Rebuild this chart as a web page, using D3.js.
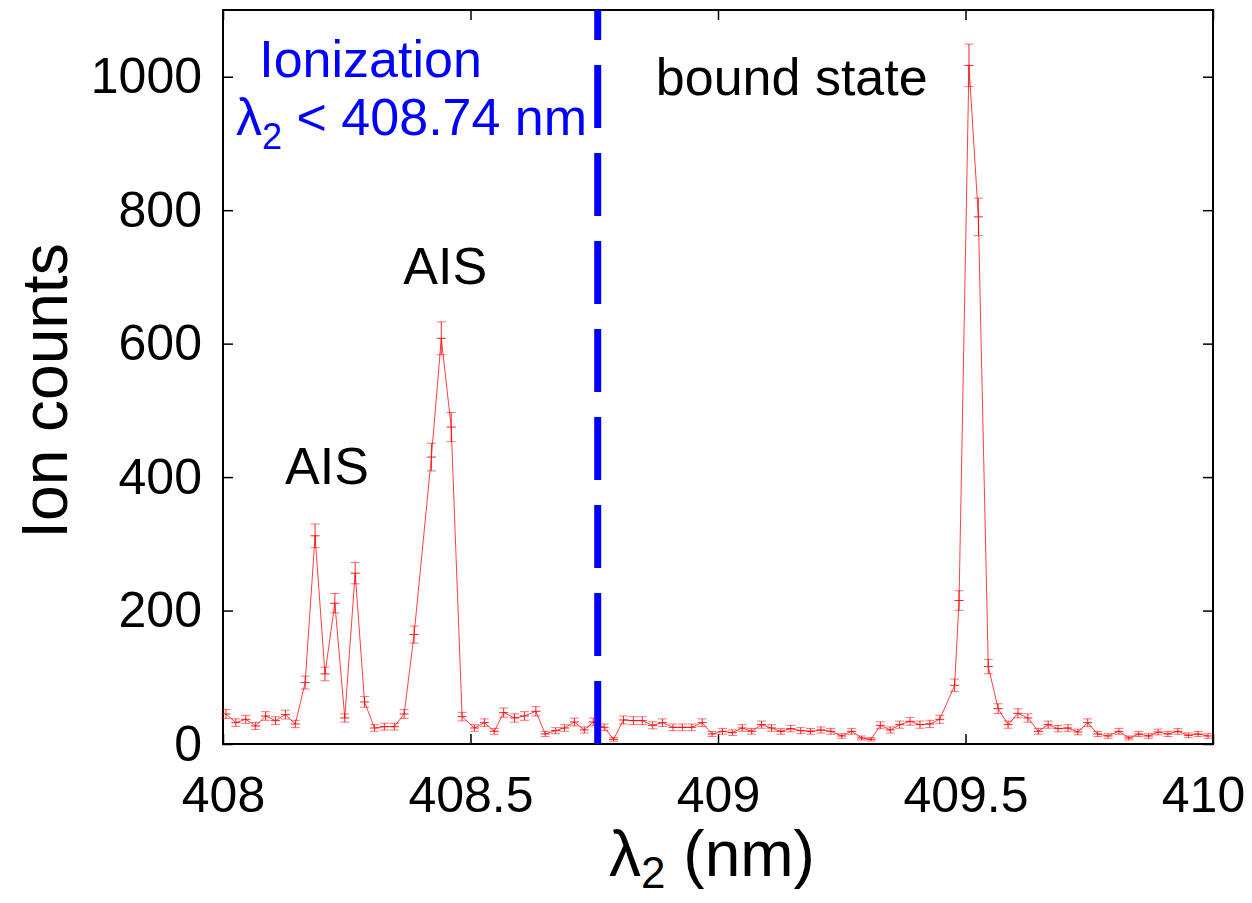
<!DOCTYPE html>
<html>
<head>
<meta charset="utf-8">
<script src="https://cdn.jsdelivr.net/npm/d3@7"></script>
<style>
  body { margin: 0; background: #fff; }
  text { font-family: "Liberation Sans", Arial, Helvetica, sans-serif; }
</style>
</head>
<body>
<div class="chart"></div>
<script>
var svgWidth = 1252;
var svgHeight = 903;
var margin = { top: 10, right: 39, bottom: 159, left: 223 };

var width = svgWidth - margin.left - margin.right;
var height = svgHeight - margin.top - margin.bottom;

// wavelength of each scan point (nm)
var wavelengths = [
  408.006, 408.026, 408.046, 408.066, 408.086, 408.106, 408.126, 408.146, 408.166, 408.186,
  408.206, 408.226, 408.246, 408.267, 408.286, 408.306, 408.326, 408.346, 408.366, 408.386,
  408.421, 408.441, 408.461, 408.483, 408.508, 408.528, 408.548, 408.567, 408.589, 408.609,
  408.632, 408.651, 408.672, 408.690, 408.710, 408.730, 408.748, 408.770, 408.789, 408.809,
  408.829, 408.847, 408.868, 408.888, 408.909, 408.928, 408.947, 408.968, 408.988, 409.009,
  409.029, 409.049, 409.068, 409.088, 409.108, 409.127, 409.147, 409.167, 409.187, 409.208,
  409.228, 409.250, 409.270, 409.290, 409.309, 409.328, 409.348, 409.367, 409.388, 409.408,
  409.428, 409.448, 409.478, 409.487, 409.507, 409.526, 409.546, 409.566, 409.586, 409.606,
  409.626, 409.647, 409.667, 409.687, 409.707, 409.727, 409.747, 409.767, 409.788, 409.810,
  409.830, 409.850, 409.870, 409.889, 409.909, 409.929, 409.950, 409.970, 409.990
];

// ion counts at each point
var ionCounts = [
  45, 32, 37, 27, 42, 35, 44, 30, 92, 312,
  105, 211, 39, 256, 63, 24, 26, 26, 45, 164,
  430, 608, 475, 41, 24, 32, 19, 47, 39, 42,
  49, 15, 20, 24, 33, 21, 33, 25, 7, 36,
  35, 35, 28, 32, 25, 25, 25, 32, 15, 19,
  17, 24, 19, 29, 24, 19, 23, 20, 19, 21,
  19, 12, 19, 9, 7, 28, 21, 29, 34, 29,
  30, 37, 88, 215, 1017, 790, 116, 53, 29, 46,
  39, 19, 29, 23, 24, 18, 32, 15, 12, 19,
  9, 15, 12, 18, 15, 19, 13, 15, 12
];

var xTicks = [408, 408.5, 409, 409.5, 410];
var xTickLabels = ["408", "408.5", "409", "409.5", "410"];
var yTicks = [0, 200, 400, 600, 800, 1000];

var thresholdNm = 408.757;

// text annotations
var notes = [
  { text: "AIS", x: 408.210, y: 389, color: "#000" },
  { text: "AIS", x: 408.449, y: 690, color: "#000" },
  { text: "bound state", x: 409.149, y: 972, color: "#000" },
  { text: "Ionization", x: 408.298, y: 1000, color: "#0000ff" }
];

var data = wavelengths.map(function(w, i) {
  // Poisson error bars
  return { x: w, y: ionCounts[i], err: Math.sqrt(ionCounts[i]) };
});

var svg = d3.select(".chart")
  .append("svg")
  .attr("width", svgWidth)
  .attr("height", svgHeight);

var chartGroup = svg.append("g")
  .attr("transform", `translate(${margin.left}, ${margin.top})`);

var xScale = d3.scaleLinear().domain([408, 410]).range([0, width]);
var yScale = d3.scaleLinear().domain([0, 1100]).range([height, 0]);

// axes, ticks pointing inwards
var bottomAxis = d3.axisBottom(xScale).tickValues(xTicks)
  .tickFormat(function(d, i) { return xTickLabels[i]; })
  .tickSizeInner(-10).tickSizeOuter(0).tickPadding(32);
var topAxis = d3.axisTop(xScale).tickValues(xTicks).tickFormat("")
  .tickSizeInner(-10).tickSizeOuter(0);
var leftAxis = d3.axisLeft(yScale).tickValues(yTicks).tickFormat(d3.format("d"))
  .tickSizeInner(-10).tickSizeOuter(0).tickPadding(21);
var rightAxis = d3.axisRight(yScale).tickValues(yTicks).tickFormat("")
  .tickSizeInner(-10).tickSizeOuter(0);

function styleAxis(g) {
  g.select(".domain").remove();
  g.selectAll(".tick line").attr("stroke", "#000").attr("stroke-width", 1.5);
  g.selectAll(".tick text").attr("fill", "#000").style("font-size", "50px")
    .style("font-family", '"Liberation Sans", Arial, sans-serif');
}

var xAxisG = chartGroup.append("g").attr("transform", `translate(0, ${height})`).call(bottomAxis).call(styleAxis);
// keep the last label inside the window
xAxisG.selectAll(".tick text").filter(d => d === 410).attr("dx", -10);
chartGroup.append("g").call(topAxis).call(styleAxis);
chartGroup.append("g").call(leftAxis).call(styleAxis);
chartGroup.append("g").attr("transform", `translate(${width}, 0)`).call(rightAxis).call(styleAxis);

// frame
chartGroup.append("rect")
  .attr("x", 0).attr("y", 0)
  .attr("width", width).attr("height", height)
  .attr("fill", "none").attr("stroke", "#000").attr("stroke-width", 2);

// data line
var line = d3.line().x(d => xScale(d.x)).y(d => yScale(d.y));
chartGroup.append("path")
  .datum(data)
  .attr("d", line)
  .attr("fill", "none")
  .attr("stroke", "#ff0000")
  .attr("stroke-opacity", 0.75)
  .attr("stroke-width", 1);

// error bars
var capW = 4.5;
var bars = chartGroup.selectAll(".ebar")
  .data(data)
  .enter()
  .append("g")
  .attr("class", "ebar")
  .attr("stroke", "#ff0000")
  .attr("stroke-width", 1);

bars.append("line")
  .attr("x1", d => xScale(d.x)).attr("x2", d => xScale(d.x))
  .attr("y1", d => yScale(d.y + d.err)).attr("y2", d => yScale(d.y - d.err))
  .attr("stroke-opacity", 0.85);
bars.append("line")
  .attr("x1", d => xScale(d.x) - capW).attr("x2", d => xScale(d.x) + capW)
  .attr("y1", d => yScale(d.y + d.err)).attr("y2", d => yScale(d.y + d.err))
  .attr("stroke-opacity", 0.55);
bars.append("line")
  .attr("x1", d => xScale(d.x) - capW).attr("x2", d => xScale(d.x) + capW)
  .attr("y1", d => yScale(d.y - d.err)).attr("y2", d => yScale(d.y - d.err))
  .attr("stroke-opacity", 0.55);
bars.append("line")
  .attr("x1", d => xScale(d.x) - capW).attr("x2", d => xScale(d.x) + capW)
  .attr("y1", d => yScale(d.y)).attr("y2", d => yScale(d.y))
  .attr("stroke-opacity", 0.9);

// ionization threshold
chartGroup.append("line")
  .attr("x1", xScale(thresholdNm)).attr("x2", xScale(thresholdNm))
  .attr("y1", height).attr("y2", 0)
  .attr("stroke", "#0000ff")
  .attr("stroke-width", 7)
  .attr("stroke-dasharray", "63,25");

// annotations
chartGroup.selectAll(".note")
  .data(notes)
  .enter()
  .append("text")
  .attr("class", "note")
  .attr("x", d => xScale(d.x))
  .attr("y", d => yScale(d.y))
  .attr("text-anchor", "middle")
  .attr("fill", d => d.color)
  .style("font-size", "52px")
  .text(d => d.text);

var thr = chartGroup.append("text")
  .attr("x", xScale(408.381))
  .attr("y", yScale(912))
  .attr("text-anchor", "middle")
  .attr("fill", "#0000ff")
  .style("font-size", "52px");
thr.append("tspan").text("\u03bb");
thr.append("tspan").attr("dy", 14).style("font-size", "36px").text("2");
thr.append("tspan").attr("dy", -14).text(" < 408.74 nm");

// axis labels
chartGroup.append("text")
  .attr("transform", "rotate(-90)")
  .attr("x", -height / 2 - 14)
  .attr("y", 47 - margin.left + 20)
  .attr("text-anchor", "middle")
  .attr("fill", "#000")
  .style("font-size", "64px")
  .text("Ion counts");

var xl = chartGroup.append("text")
  .attr("x", width / 2 - 6)
  .attr("y", height + 132)
  .attr("text-anchor", "middle")
  .attr("fill", "#000")
  .style("font-size", "64px");
xl.append("tspan").text("\u03bb");
xl.append("tspan").attr("dy", 12).style("font-size", "44px").text("2");
xl.append("tspan").attr("dy", -12).text(" (nm)");
</script>
</body>
</html>
